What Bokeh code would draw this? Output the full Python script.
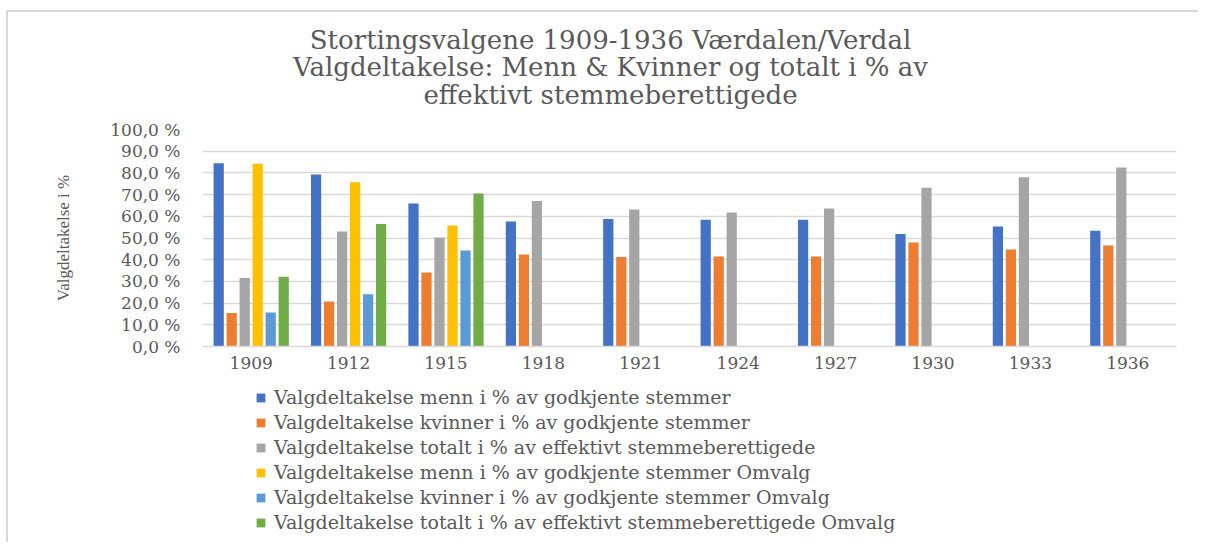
from bokeh.plotting import figure
from bokeh.layouts import column
from bokeh.models import (FactorRange, Range1d, FixedTicker, Legend, LegendItem,
                          Label, ColumnDataSource)
from bokeh.transform import dodge
from bokeh.embed import file_html
from bokeh.resources import INLINE

# ---- data ----
years = ["1909", "1912", "1915", "1918", "1921", "1924", "1927", "1930", "1933", "1936"]
menn = [84.5, 79.3, 65.9, 57.6, 58.7, 58.4, 58.4, 51.9, 55.3, 53.3]
kvinner = [15.4, 20.7, 34.1, 42.4, 41.2, 41.5, 41.5, 47.9, 44.7, 46.5]
totalt = [31.6, 53.0, 50.2, 67.0, 63.1, 61.8, 63.6, 73.1, 78.0, 82.5]
menn_omvalg = [84.2, 75.7, 55.8, None, None, None, None, None, None, None]
kvinner_omvalg = [15.7, 24.1, 44.2, None, None, None, None, None, None, None]
totalt_omvalg = [32.1, 56.4, 70.5, None, None, None, None, None, None, None]

series_names = [
    "Valgdeltakelse menn i % av godkjente stemmer",
    "Valgdeltakelse kvinner i % av godkjente stemmer",
    "Valgdeltakelse totalt i % av effektivt stemmeberettigede",
    "Valgdeltakelse menn i % av godkjente stemmer Omvalg",
    "Valgdeltakelse kvinner i % av godkjente stemmer Omvalg",
    "Valgdeltakelse totalt i % av effektivt stemmeberettigede Omvalg",
]
series_values = [menn, kvinner, totalt, menn_omvalg, kvinner_omvalg, totalt_omvalg]
series_colors = ["#4472C4", "#ED7D31", "#A5A5A5", "#FFC000", "#5B9BD5", "#70AD47"]

y_ticks = [0, 10, 20, 30, 40, 50, 60, 70, 80, 90, 100]
y_tick_labels = ["0,0 %", "10,0 %", "20,0 %", "30,0 %", "40,0 %", "50,0 %",
                 "60,0 %", "70,0 %", "80,0 %", "90,0 %", "100,0 %"]

title_lines = ["Stortingsvalgene 1909-1936 Værdalen/Verdal",
               "Valgdeltakelse: Menn & Kvinner og totalt i % av",
               "effektivt stemmeberettigede"]
y_axis_title = "Valgdeltakelse i %"

TEXT = "#595959"
SERIF_WIDE = "DejaVu Serif"
W = 1190
FRAME_L, FRAME_R = 194, 22      # frame borders shared by every strip (column aligns frames)


def bare(fig):
    fig.outline_line_color = None
    fig.grid.visible = False
    fig.background_fill_color = "white"
    fig.border_fill_color = "white"
    return fig


# ---- title strip (pixel coordinates of the canvas, y downwards) ----
TH = 100
tf = bare(figure(width=W, height=TH, x_range=Range1d(FRAME_L, W - FRAME_R),
                 y_range=Range1d(TH, 0), output_backend="svg", toolbar_location=None,
                 min_border_left=FRAME_L, min_border_right=FRAME_R,
                 min_border_top=0, min_border_bottom=0,
                 x_axis_location=None, y_axis_location=None))
for line, ty in zip(title_lines, [27, 54.5, 82]):
    tf.add_layout(Label(x=602, y=ty, text=line, text_align="center",
                        text_baseline="middle", text_font=SERIF_WIDE,
                        text_font_size="26px", text_color=TEXT))

# ---- main chart ----
p = figure(width=W, height=268, x_range=FactorRange(*years, range_padding=0),
           y_range=Range1d(0, 100), output_backend="svg", toolbar_location=None,
           min_border_left=FRAME_L, min_border_right=FRAME_R, min_border_top=17,
           min_border_bottom=34)
p.outline_line_color = None
p.background_fill_color = "white"
p.border_fill_color = "white"

data = {"year": years}
for i, vals in enumerate(series_values):
    data[f"s{i}"] = [float("nan") if v is None else v for v in vals]
src = ColumnDataSource(data)

step = 0.1335
for i, color in enumerate(series_colors):
    p.vbar(x=dodge("year", (i - 2.5) * step, range=p.x_range), top=f"s{i}",
           width=0.105, source=src, fill_color=color, line_color=None)

p.yaxis.ticker = FixedTicker(ticks=y_ticks)
p.yaxis.major_label_overrides = {t: l for t, l in zip(y_ticks, y_tick_labels)}
p.yaxis.axis_line_color = None
p.yaxis.major_tick_line_color = None
p.yaxis.minor_tick_line_color = None
p.yaxis.major_tick_in = 0
p.yaxis.major_tick_out = 0
p.yaxis.major_label_standoff = 22
p.yaxis.major_label_text_font = SERIF_WIDE
p.yaxis.major_label_text_font_size = "17px"
p.yaxis.major_label_text_color = TEXT
p.yaxis.axis_label = y_axis_title
p.yaxis.axis_label_text_font = "Liberation Serif"
p.yaxis.axis_label_text_font_size = "17px"
p.yaxis.axis_label_text_font_style = "normal"
p.yaxis.axis_label_text_color = TEXT
p.yaxis.axis_label_standoff = 34

p.xaxis.axis_line_color = "#d9d9d9"
p.xaxis.axis_line_width = 1.5
p.xaxis.major_tick_line_color = None
p.xaxis.minor_tick_line_color = None
p.xaxis.major_tick_in = 0
p.xaxis.major_tick_out = 0
p.xaxis.major_label_standoff = 10
p.xaxis.major_label_text_font = SERIF_WIDE
p.xaxis.major_label_text_font_size = "17px"
p.xaxis.major_label_text_color = TEXT

p.xgrid.grid_line_color = None
p.ygrid.grid_line_color = "#d9d9d9"
p.ygrid.grid_line_width = 1.5

# ---- legend strip ----
LH = 162
q = bare(figure(width=W, height=LH, output_backend="svg", toolbar_location=None,
                min_border_left=FRAME_L, min_border_right=FRAME_R,
                min_border_top=0, min_border_bottom=0,
                x_axis_location=None, y_axis_location=None))
items = []
for name, color in zip(series_names, series_colors):
    # zero-size swatch carrier: only its colour is used, by the legend
    r = q.vbar(x=[0], top=[0], width=0, fill_color=color, line_color=None)
    items.append(LegendItem(label=name, renderers=[r]))
legend = Legend(items=items, location=(53, 9), orientation="vertical",
                label_text_font=SERIF_WIDE, label_text_font_size="19px",
                label_text_color=TEXT, glyph_width=11, glyph_height=11,
                label_height=20, spacing=3, padding=0, margin=0,
                label_standoff=8, border_line_color=None,
                background_fill_alpha=0)
q.add_layout(legend, "center")

page = column(tf, p, q, spacing=0)
page.styles = {"margin-left": "6px", "margin-top": "10px",
               "border-left": "2px solid #d9d9d9", "border-top": "2px solid #d9d9d9"}

open("out.html", "w").write(file_html(page, INLINE))
